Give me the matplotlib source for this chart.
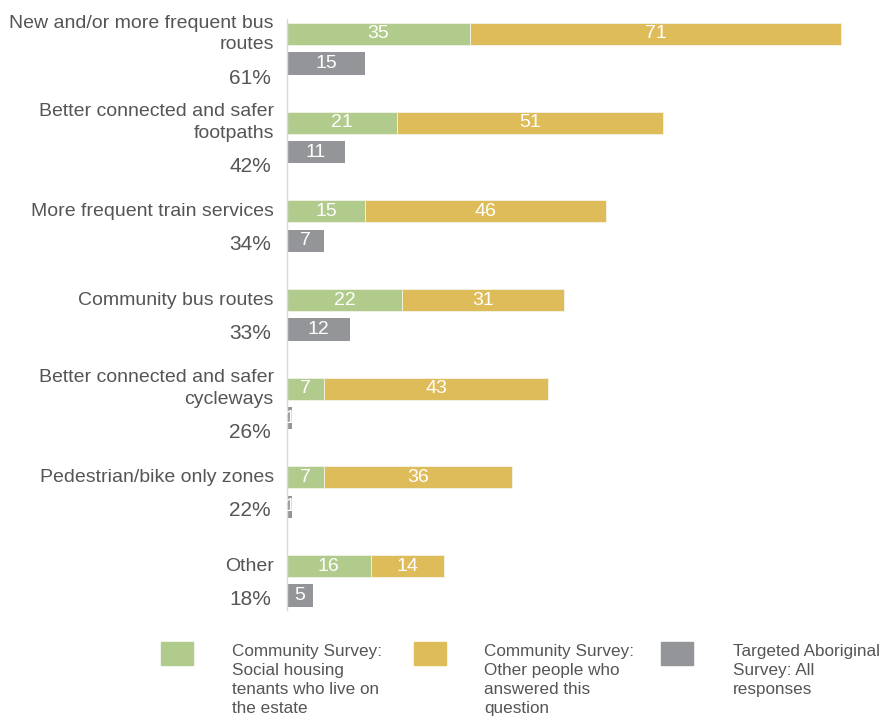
import matplotlib.pyplot as plt
from matplotlib.patches import Rectangle

# data
categories = [
    'New and/or more frequent bus\nroutes',
    'Better connected and safer\nfootpaths',
    'More frequent train services',
    'Community bus routes',
    'Better connected and safer\ncycleways',
    'Pedestrian/bike only zones',
    'Other',
]
percents = ['61%', '42%', '34%', '33%', '26%', '22%', '18%']
social_housing = [35, 21, 15, 22, 7, 7, 16]
other_people = [71, 51, 46, 31, 43, 36, 14]
aboriginal = [15, 11, 7, 12, 1, 1, 5]

legend_labels = [
    'Community Survey:\nSocial housing\ntenants who live on\nthe estate',
    'Community Survey:\nOther people who\nanswered this\nquestion',
    'Targeted Aboriginal\nSurvey: All\nresponses',
]

GREEN = '#b1cb8c'
YELLOW = '#dfbc5a'
GREY = '#939598'
TEXT = '#555555'

plt.rcParams['font.family'] = ['Liberation Sans', 'DejaVu Sans']

W, H = 885, 720
fig = plt.figure(figsize=(W / 100, H / 100), dpi=100)
ax = fig.add_axes([287 / W, 1 - 610 / H, 1 - 287 / W, (610 - 19) / H])

bar_h = 0.25
grey_off = 0.333
ys = list(range(len(categories)))
grey_ys = [y + grey_off for y in ys]

b1 = ax.barh(ys, social_housing, height=bar_h, color=GREEN,
             edgecolor='#f3f3e8', linewidth=0.6)
b2 = ax.barh(ys, other_people, left=social_housing, height=bar_h,
             color=YELLOW, edgecolor='#f3f3e8', linewidth=0.6)
b3 = ax.barh(grey_ys, aboriginal, height=bar_h, color=GREY)

for bars in (b1, b2, b3):
    ax.bar_label(bars, label_type='center', color='white', fontsize=14)

ax.set_xlim(0, 114.4)
ax.set_ylim(6.496, -0.169)
ax.set_xticks([])
ax.set_yticks([])
for s in ('top', 'right', 'bottom'):
    ax.spines[s].set_visible(False)
ax.spines['left'].set_color('#d9d9d9')
ax.spines['left'].set_linewidth(1)

for y, gy, cat, pct in zip(ys, grey_ys, categories, percents):
    ax.annotate(cat, xy=(0, y), xycoords=('axes fraction', 'data'),
                xytext=(-9.5, 0), textcoords='offset points',
                ha='right', va='center', fontsize=14, color=TEXT,
                linespacing=1.35)
    two_lines = '\n' in cat
    ax.annotate(pct, xy=(0, gy), xycoords=('axes fraction', 'data'),
                xytext=(-11.5, -10.5 if two_lines else -2.5),
                textcoords='offset points',
                ha='right', va='center', fontsize=15, color=TEXT)

# legend drawn by hand
patch_x = [161, 414, 661]
text_x = [232, 484, 733]
for px, tx, col, lab in zip(patch_x, text_x, [GREEN, YELLOW, GREY],
                            legend_labels):
    fig.patches.append(Rectangle((px / W, 1 - 665 / H), 32 / W, 23 / H,
                                 transform=fig.transFigure, color=col))
    fig.text(tx / W, 1 - 644 / H, lab, ha='left', va='top',
             fontsize=12.3, color=TEXT, linespacing=1.32)

fig.savefig('out.png', dpi=100)
